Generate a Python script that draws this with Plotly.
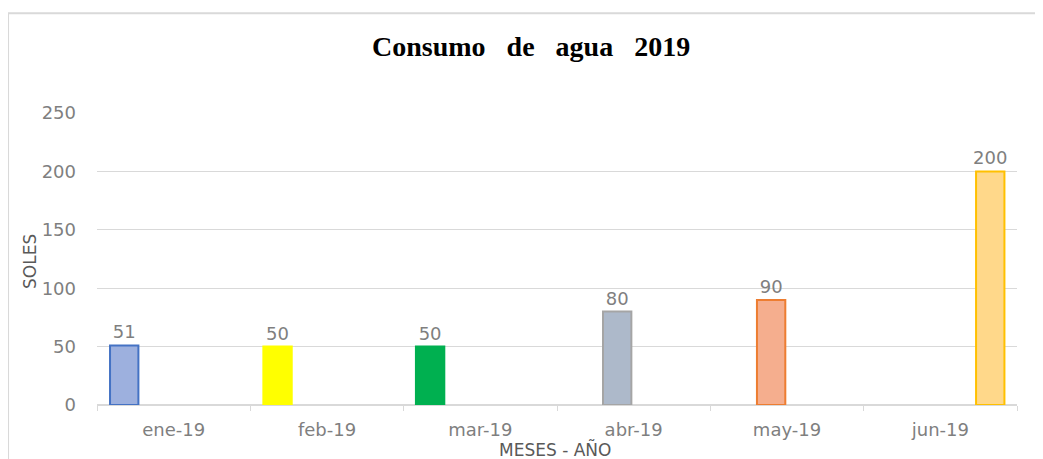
"""
Consumo de agua 2019: monthly water bill in soles.
"""

import plotly.graph_objects as go

# Data

MESES = ["ene-19", "feb-19", "mar-19", "abr-19", "may-19", "jun-19"]
SOLES = [51, 50, 50, 80, 90, 200]
Y_TICKS = [0, 50, 100, 150, 200, 250]

# Styling (Excel-like palette, one colour per month)

FILLS = ["#9DB0DE", "#FFFF00", "#00B050", "#ADB9CA", "#F5AE8E", "#FFD88A"]
LINES = ["#4472C4", "#FFFF00", "#00B050", "#A5A5A5", "#ED7D31", "#FFC000"]
# each month sits in a different slot of its category, as in the source chart
OFFSETS = [-0.415, -0.415, -0.42, -0.2, -0.196, 0.233]
BAR_WIDTH = 0.185

GRID = "#D9D9D9"
TEXT = "#7F7F7F"
FONT = "DejaVu Sans"

# the page adds an 8px body margin, so the figure is drawn 8px smaller
PAD = 8
fig = go.Figure()
for mes, val, fill, line, off in zip(MESES, SOLES, FILLS, LINES, OFFSETS):
    fig.add_trace(go.Bar(
        x=[mes],
        y=[val],
        offset=off,
        width=BAR_WIDTH,
        marker=dict(color=fill, line=dict(color=line, width=2)),
        text=[str(val)],
        textposition="outside",
        constraintext="none",
        textfont=dict(family=FONT, size=18, color=TEXT),
        cliponaxis=False,
        showlegend=False,
    ))

fig.update_layout(
    width=1043 - PAD,
    height=459 - PAD,
    margin=dict(l=97 - PAD, r=26, t=113 - PAD, b=54),
    paper_bgcolor="white",
    plot_bgcolor="white",
    barmode="overlay",
    font=dict(family=FONT, color=TEXT),
    xaxis=dict(
        type="category",
        categoryorder="array",
        categoryarray=MESES,
        range=[-0.5, 5.5],
        showgrid=False,
        showline=False,
        ticks="outside",
        tickson="boundaries",
        ticklen=5,
        tickcolor=GRID,
        tickfont=dict(family=FONT, size=18, color=TEXT),
        ticklabelstandoff=12,
    ),
    yaxis=dict(
        range=[0, 250],
        tickvals=Y_TICKS,
        showgrid=True,
        gridcolor=GRID,
        gridwidth=1,
        zeroline=True,
        zerolinecolor=GRID,
        zerolinewidth=2,
        showline=False,
        tickfont=dict(family=FONT, size=18, color=TEXT),
        ticklabelstandoff=20,
    ),
    shapes=[dict(
        type="rect", xref="paper", yref="paper",
        x0=-0.0967, x1=1.04, y0=-0.3, y1=1.342,
        line=dict(color=GRID, width=2),
        fillcolor="rgba(0,0,0,0)",
        layer="below",
    )],
    annotations=[
        dict(
            text="<b>Consumo   de   agua   2019</b>",
            xref="paper", yref="paper",
            x=0.472, y=(405 - 46) / 292,
            xanchor="center", yanchor="middle",
            showarrow=False,
            font=dict(family="Liberation Serif", size=28, color="black"),
        ),
        dict(
            text="SOLES",
            xref="paper", yref="paper",
            x=(30 - 97) / 920, y=(405 - 262) / 292,
            xanchor="center", yanchor="middle",
            textangle=-90,
            showarrow=False,
            font=dict(family=FONT, size=17, color="#595959"),
        ),
        dict(
            text="MESES - AÑO",
            xref="paper", yref="paper",
            x=(555 - 97) / 920, y=(405 - 449) / 292,
            xanchor="center", yanchor="middle",
            showarrow=False,
            font=dict(family=FONT, size=17, color="#595959"),
        ),
    ],
)

fig.write_html("out.html")
